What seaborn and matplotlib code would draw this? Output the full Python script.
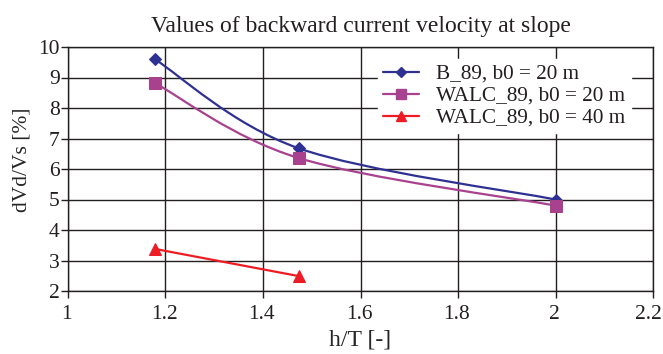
import numpy as np
import pandas as pd
import matplotlib
matplotlib.use("Agg")
import matplotlib.pyplot as plt
import matplotlib.transforms as mtransforms
from matplotlib.path import Path
from matplotlib.patches import PathPatch
from matplotlib.lines import Line2D
import seaborn as sns

# ---- data ----
x_20 = [1.178, 1.473, 2.0]
b89_20 = [9.6, 6.68, 5.0]
walc_20 = [8.82, 6.36, 4.8]
x_40 = [1.178, 1.473]
walc_40 = [3.38, 2.49]

series_names = ["B_89, b0 = 20 m", "WALC_89, b0 = 20 m", "WALC_89, b0 = 40 m"]
colors = ["#2E3192", "#A8428F", "#ED1C24"]
markers = ["D", "s", "^"]
msizes = [6.5, 8, 9]

title = "Values of backward current velocity at slope"
xlabel = "h/T [-]"
ylabel = "dVd/Vs [%]"
xticks = [1, 1.2, 1.4, 1.6, 1.8, 2, 2.2]
xticklabels = ["1", "1.2", "1.4", "1.6", "1.8", "2", "2.2"]
yticks = [2, 3, 4, 5, 6, 7, 8, 9, 10]

sns.set_theme(style="ticks")
plt.rcParams["font.family"] = ["Liberation Serif", "DejaVu Serif"]
plt.rcParams["text.color"] = "#231F20"

fig = plt.figure(figsize=(6.63, 3.54), dpi=100)
ax = fig.add_axes([68 / 663, 1 - 291 / 354, (653 - 68) / 663, (291 - 47) / 354])

df = pd.concat([
    pd.DataFrame({"x": x_20, "y": b89_20, "s": series_names[0]}),
    pd.DataFrame({"x": x_20, "y": walc_20, "s": series_names[1]}),
    pd.DataFrame({"x": x_40, "y": walc_40, "s": series_names[2]}),
])


def smooth_path(xs, ys):
    # Bezier (Catmull-Rom style) path through the data points, like a smoothed line
    P = np.column_stack([xs, ys]).astype(float)
    n = len(P)
    verts = [P[0]]
    codes = [Path.MOVETO]
    for i in range(n - 1):
        p0 = P[i - 1] if i > 0 else P[i]
        p1 = P[i]
        p2 = P[i + 1]
        p3 = P[i + 2] if i + 2 < n else P[i + 1]
        c1 = p1 + (p2 - p0) / 6.0
        c2 = p2 - (p3 - p1) / 6.0
        verts += [c1, c2, p2]
        codes += [Path.CURVE4] * 3
    return Path(verts, codes)


for (xs, ys), c in zip([(x_20, b89_20), (x_20, walc_20), (x_40, walc_40)], colors):
    ax.add_patch(PathPatch(smooth_path(xs, ys), facecolor="none", edgecolor=c,
                           lw=1.6, zorder=3))

for name, c, m, ms in zip(series_names, colors, markers, msizes):
    sub = df[df["s"] == name]
    sns.lineplot(data=sub, x="x", y="y", ax=ax, color=c, marker=m, markersize=ms,
                 markeredgecolor=c, linestyle="none", zorder=4, legend=False)

ax.set_xlim(1, 2.2)
ax.set_ylim(2, 10)
ax.set_xticks(xticks)
ax.set_xticklabels(xticklabels)
ax.set_yticks(yticks)
ax.grid(True, color="#231F20", lw=1.0)
ax.set_axisbelow(True)
for sp in ax.spines.values():
    sp.set_visible(True)
    sp.set_color("#231F20")
    sp.set_linewidth(1.0)
ax.tick_params(axis="both", labelsize=15.5, colors="#231F20", length=5, width=1,
               direction="out")
ax.tick_params(axis="x", pad=5)
ax.tick_params(axis="y", pad=1)

# last x tick label: keep it inside the figure
labs = ax.get_xticklabels()
last = labs[-1]
last.set_horizontalalignment("right")
last.set_transform(last.get_transform() +
                   mtransforms.ScaledTranslation(9 / 100, 0, fig.dpi_scale_trans))
for lab in labs[:-1]:
    lab.set_transform(lab.get_transform() +
                      mtransforms.ScaledTranslation(-1.5 / 100, 0, fig.dpi_scale_trans))

ax.set_xlabel(xlabel, fontsize=17, labelpad=4)
ax.set_ylabel(ylabel, fontsize=15.5)
ax.yaxis.set_label_coords(-0.063, 0.537)
ax.set_title(title, fontsize=17, pad=11)

handles = [Line2D([0], [0], color=c, marker=m, markersize=ms * 0.85, lw=1.6,
                  markeredgecolor=c) for c, m, ms in zip(colors, markers, msizes)]
leg = ax.legend(handles, series_names, loc="upper right", bbox_to_anchor=(0.98, 0.995),
                frameon=True, fontsize=15.3, handlelength=1.7, handletextpad=0.8,
                labelspacing=0.1, borderpad=0.25, fancybox=False)
leg.get_frame().set_facecolor("white")
leg.get_frame().set_edgecolor("white")
leg.get_frame().set_alpha(1)

fig.savefig("out.png", dpi=100)
